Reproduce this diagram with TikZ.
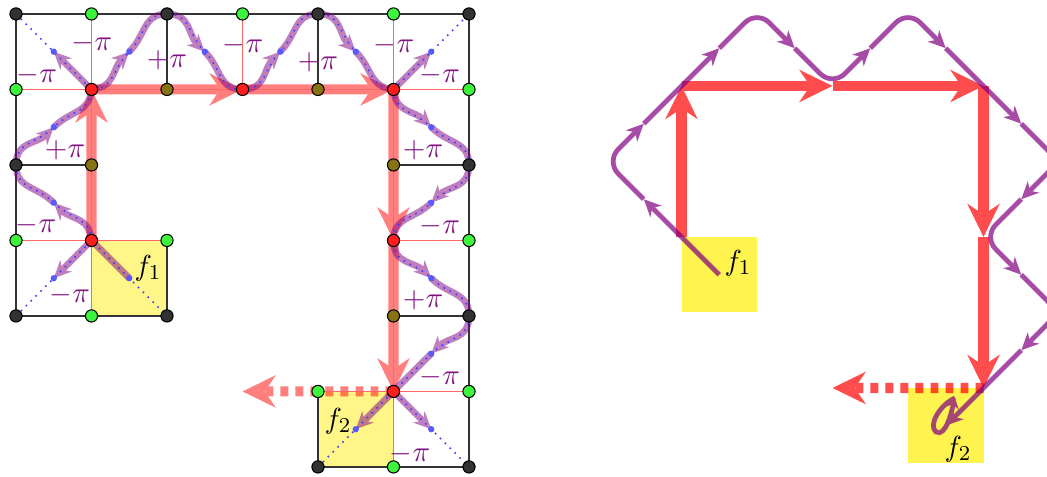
\documentclass[tikz,border=0pt]{standalone}
\usetikzlibrary{arrows.meta}
\definecolor{nblack}{RGB}{50,50,50}
\definecolor{ngreen}{RGB}{60,245,60}
\definecolor{nred}{RGB}{255,30,30}
\definecolor{nolive}{RGB}{135,115,20}
\definecolor{lyellow}{RGB}{255,246,135}
\definecolor{ryellow}{RGB}{255,244,79}
\definecolor{lblpurple}{RGB}{128,20,128}
\definecolor{dotblue}{RGB}{60,60,255}
\definecolor{rred}{RGB}{255,77,77}
\tikzset{
 vtx/.style={circle, draw=black, line width=0.4pt, inner sep=0pt, minimum size=4.6pt},
 vb/.style={vtx, fill=nblack}, vg/.style={vtx, fill=ngreen},
 vr/.style={vtx, fill=nred}, vo/.style={vtx, fill=nolive},
 gblack/.style={line width=0.5pt, black!80},
 gred/.style={line width=0.5pt, red!60},
 bigtip/.style={-{Stealth[length=12.4pt,width=12pt,inset=4pt]}},
 smalltip/.style={-{Stealth[length=6.5pt,width=6pt,inset=2pt]}},
 thickred/.style={line width=3.8pt, red, bigtip},
 rthickred/.style={line width=3.8pt, rred, bigtip},
 lpath/.style={line width=2.5pt, violet, smalltip},
 rpath/.style={line width=1.8pt, violet, smalltip, rounded corners=6.5pt},
 bluedots/.style={dotblue, line width=0.6pt, dotted},
 bdot/.style={circle, fill=dotblue!85, inner sep=0pt, minimum size=2.4pt},
 lbl/.style={text=lblpurple, font=\fontsize{11}{13}\selectfont, inner sep=0pt},
 flbl/.style={font=\fontsize{11}{13}\selectfont, inner sep=0pt},
 dashpat/.style={dash pattern=on 3pt off 2.66pt},
}
\begin{document}
\begin{tikzpicture}[x=1cm,y=1cm]
\useasboundingbox (-0.212,-0.132) rectangle (13.656,6.185);
\clip (-0.212,-0.132) rectangle (13.656,6.185);
% coordinates
\foreach \i in {0,...,6}{
  \foreach \j in {0,...,6}{
    \coordinate (p\i\j) at (\i,\j);
    \coordinate (m\i\j) at (\i+0.5,\j+0.5);
    \coordinate (q\i\j) at (7.815+\i,0.046+\j);
    \coordinate (rm\i\j) at (8.315+\i,0.546+\j);
  }
}
% ===== LEFT FIGURE =====
\fill[lyellow] (p12) rectangle (p23);
\fill[lyellow] (p40) rectangle (p51);
\begin{scope}[transparency group, opacity=0.5]
  \draw[thickred] (p13) -- (p15);
  \draw[thickred] (p15) -- (p35);
  \draw[thickred] (p35) -- (p55);
  \draw[thickred] (p55) -- (p53);
  \draw[thickred] (p53) -- (p51);
  \draw[thickred, dashpat] (p51) -- (p31);
\end{scope}
% grid lines
\draw[gblack] (p06) -- (p66);
\draw[gblack] (p06) -- (p02) -- (p22) -- (p23);
\draw[gblack] (p26) -- (p25);
\draw[gblack] (p46) -- (p45);
\draw[gblack] (p66) -- (p60) -- (p40) -- (p41);
\draw[gblack] (p04) -- (p14);
\draw[gblack] (p54) -- (p64);
\draw[gblack] (p52) -- (p62);
\draw[gred] (p16) -- (p15);
\draw[gred] (p36) -- (p35);
\draw[gred] (p56) -- (p55);
\draw[gred] (p05) -- (p65);
\draw[gred] (p15) -- (p12);
\draw[gred] (p03) -- (p23);
\draw[gred] (p55) -- (p50);
\draw[gred] (p53) -- (p63);
\draw[gred] (p41) -- (p61);
% purple path
\begin{scope}[transparency group, opacity=0.5, looseness=1.15]
  \draw[lpath] (m12) -- (p13) to[out=95,in=315] (m03);
  \draw[lpath] (m03) to[out=135,in=270] (p04) to[out=90,in=225] (m04);
  \draw[lpath] (m04) to[out=45,in=265] (p15) to[out=5,in=225] (m15);
  \draw[lpath] (m15) to[out=45,in=180] (p26) to[out=0,in=135] (m25);
  \draw[lpath] (m25) to[out=-45,in=180] (p35) to[out=0,in=225] (m35);
  \draw[lpath] (m35) to[out=45,in=180] (p46) to[out=0,in=135] (m45);
  \draw[lpath] (m45) to[out=-45,in=175] (p55) to[out=275,in=135] (m54);
  \draw[lpath] (m54) to[out=-45,in=90] (p64) to[out=270,in=45] (m53);
  \draw[lpath] (m53) to[out=225,in=90] (p53) to[out=270,in=135] (m52);
  \draw[lpath] (m52) to[out=-45,in=90] (p62) to[out=270,in=45] (m51);
  \draw[lpath] (m51) -- (p51) -- (m40);
  \draw[lpath] (p13) -- (m02);
  \draw[lpath] (p15) -- (m05);
  \draw[lpath] (p55) -- (m55);
  \draw[lpath] (p51) -- (m50);
\end{scope}
% blue dotted overlay
\draw[bluedots] (p06) -- (p15);
\draw[bluedots] (p55) -- (p66);
\draw[bluedots] (p02) -- (p13) -- (p22);
\draw[bluedots] (p40) -- (p51) -- (p60);
\draw[bluedots, looseness=1.15] (p13) to[out=95,in=315] (m03) to[out=135,in=270] (p04) to[out=90,in=225] (m04)
  to[out=45,in=265] (p15) to[out=5,in=225] (m15) to[out=45,in=180] (p26) to[out=0,in=135] (m25)
  to[out=-45,in=180] (p35) to[out=0,in=225] (m35) to[out=45,in=180] (p46) to[out=0,in=135] (m45)
  to[out=-45,in=175] (p55) to[out=275,in=135] (m54) to[out=-45,in=90] (p64) to[out=270,in=45] (m53)
  to[out=225,in=90] (p53) to[out=270,in=135] (m52) to[out=-45,in=90] (p62) to[out=270,in=45] (m51) -- (p51);
\foreach \m in {m12,m03,m04,m15,m25,m35,m45,m55,m54,m53,m52,m51,m50,m40,m05,m02}
  \node[bdot] at (\m) {};
% vertices
\foreach \v in {p06,p26,p46,p66,p04,p64,p02,p22,p62,p40,p60}
  \node[vb] (n\v) at (\v) {};
\foreach \v in {p16,p36,p56,p05,p65,p03,p23,p63,p12,p41,p61,p50}
  \node[vg] (n\v) at (\v) {};
\foreach \v in {p15,p35,p55,p13,p53,p51}
  \node[vr] (n\v) at (\v) {};
\foreach \v in {p25,p45,p14,p54,p52}
  \node[vo] (n\v) at (\v) {};
% labels
\node[lbl] (l1) at (0.278,5.192) {$-\pi$};
\node[lbl] (l2) at (1.007,5.616) {$-\pi$};
\node[lbl] (l3) at (2.0,5.391) {$+\pi$};
\node[lbl] (l4) at (0.649,4.199) {$+\pi$};
\node[lbl] (l5) at (3.007,5.589) {$-\pi$};
\node[lbl] (l6) at (4.0,5.364) {$+\pi$};
\node[lbl] (l7) at (5.007,5.589) {$-\pi$};
\node[lbl] (l8) at (5.616,5.192) {$-\pi$};
\node[lbl] (l9) at (5.391,4.199) {$+\pi$};
\node[lbl] (l10) at (5.616,3.192) {$-\pi$};
\node[lbl] (l11) at (5.391,2.212) {$+\pi$};
\node[lbl] (l12) at (5.616,1.192) {$-\pi$};
\node[lbl] (l13) at (5.219,0.172) {$-\pi$};
\node[lbl] (l14) at (0.265,3.205) {$-\pi$};
\node[lbl] (l15) at (0.715,2.278) {$-\pi$};
\node[flbl] (f1l) at (1.748,2.636) {$f_1$};
\node[flbl] (f2l) at (4.265,0.609) {$f_2$};
% ===== RIGHT FIGURE =====
\fill[ryellow] (q12) rectangle (q23);
\fill[ryellow] (q40) rectangle (q51);
\draw[rthickred] (q13) -- (q15);
\draw[rthickred] (q15) -- (q35);
\draw[rthickred] (q35) -- (q55);
\draw[rthickred] (q55) -- (q53);
\draw[rthickred] (q53) -- (q51);
\begin{scope}[transparency group, opacity=0.7]
  \draw[line width=3.8pt, red, bigtip, dashpat] (q51) -- (q31);
\end{scope}
\coordinate (lpT) at (12.437,0.914);
\coordinate (lpB) at (12.185,0.464);
\begin{scope}[transparency group, opacity=0.7]
  \draw[rpath] (rm12) -- (rm03);
  \draw[rpath] (rm03) -- (q04) -- (rm04);
  \draw[rpath] (rm04) -- (rm15);
  \draw[rpath] (rm15) -- (q26) -- (rm25);
  \draw[rpath] (rm25) -- (q35) -- (rm35);
  \draw[rpath] (rm35) -- (q46) -- (rm45);
  \draw[rpath] (rm45) -- (rm54);
  \draw[rpath] (rm54) -- (q64) -- (rm53);
  \draw[rpath] (rm53) -- (q53) -- (rm52);
  \draw[rpath] (rm52) -- (q62) -- (rm51);
  \draw[rpath] (rm51) -- (rm40);
  \draw[line width=1.8pt, violet, -{Stealth[length=4pt,width=5pt,inset=1.5pt]}] (lpT) .. controls (12.238,0.821) and (12.079,0.556) .. (lpB) .. controls (12.317,0.384) and (12.397,0.755) .. (lpT);
\end{scope}
\node[flbl] (rf1l) at (9.563,2.702) {$f_1$};
\node[flbl] (rf2l) at (12.477,0.238) {$f_2$};
\end{tikzpicture}
\end{document}
